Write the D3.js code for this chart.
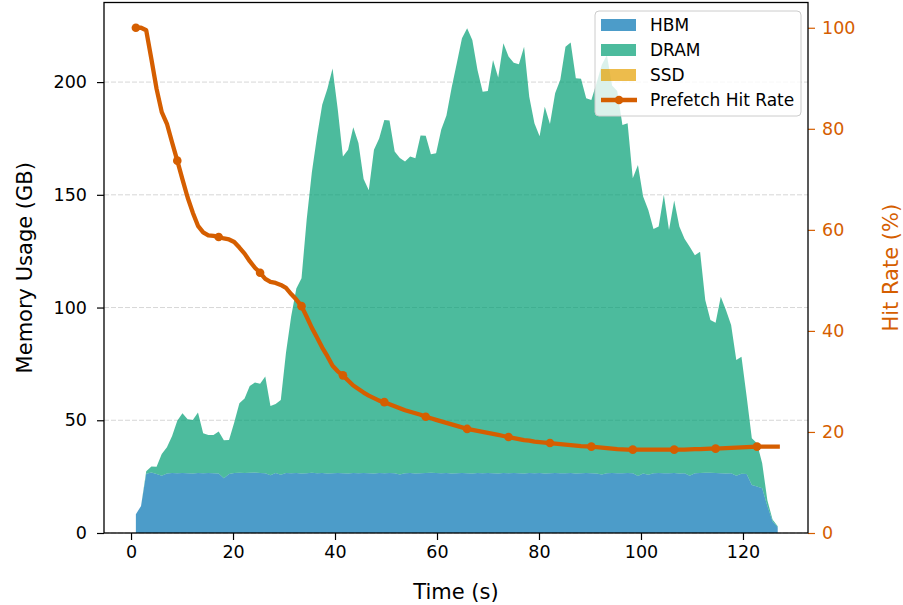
<!DOCTYPE html>
<html><head><meta charset="utf-8">
<script src="https://cdn.jsdelivr.net/npm/d3@7"></script>
<style>body{margin:0;background:#fff} text{font-family:"DejaVu Sans",sans-serif}</style>
</head><body><svg id="c" width="903" height="605"></svg>
<script>
// sampling grid (seconds)
const timeStart = 0.95, timeStep = 1.015;
const hbm = [8.3,12.0,26.3,26.8,26.2,25.4,26.4,26.6,26.5,26.6,26.5,26.4,26.6,26.5,26.6,26.5,26.4,24.3,26.2,26.6,
26.7,26.6,26.7,26.8,26.6,26.5,25.6,26.6,25.8,26.6,26.5,26.6,26.4,26.5,26.7,26.5,26.6,26.4,26.5,26.6,
26.5,26.4,26.6,26.5,26.6,26.5,26.4,26.6,26.5,26.6,26.5,25.9,26.5,26.6,26.4,26.5,26.6,26.7,26.6,26.5,
26.6,26.4,26.5,26.6,26.5,26.4,26.6,26.5,26.6,26.5,26.4,26.6,26.5,26.6,26.5,26.4,26.6,26.5,26.6,26.4,
26.5,26.6,26.5,26.5,26.6,26.4,26.5,26.6,26.5,26.4,25.9,26.5,26.6,26.5,26.5,26.6,26.5,25.3,26.4,25.8,
26.5,26.6,26.5,26.5,26.6,26.4,26.5,25.4,26.5,26.6,26.7,26.7,26.6,26.5,26.4,26.5,25.4,26.3,26.2,21.3,
20.6,19.8,12.0,5.2,2.6];
const dram = [0,0,1.1,2.7,3.2,9.6,11.6,16.4,23.3,26.5,23.9,23.7,26.9,17.7,16.9,17.0,18.6,16.8,15.0,22.4,
30.8,33.1,38.5,40.0,39.6,42.9,30.7,30.6,33.2,53.4,69.5,81.9,86.6,112.5,133.3,149.5,163.4,170.6,179.5,161.4,
140.5,143.6,153.4,146.5,130.4,125.5,143.6,148.4,156.7,156.4,142.7,140.4,138.3,140.4,139.8,149.8,149.6,141.3,141.8,152.5,
158.6,171.1,181.8,192.8,197.4,192.3,178.8,169.2,169.4,183.3,175.6,190.6,184.8,182.0,181.4,189.3,166.9,155.2,149.4,162.7,
154.9,168.4,174.5,189.2,191.0,175.3,175.0,166.2,165.5,173.2,181.7,185.5,171.9,169.5,154.5,155.1,130.8,137.9,122.8,117.5,
108.3,109.3,123.5,107.9,120.9,109.5,104.0,101.6,96.7,98.2,76.7,67.8,66.7,78.3,72.5,65.8,51.3,51.9,34.3,20.7,
19.2,11.1,2.5,0.8,0.4];
const ssd = [0,0,0,0,0,0,0,0,0,0,0,0,0,0,0,0,0,0,0,0,0,0,0,0,0,0,0,0,0,0,0,0,0,0,0,0,0,0,0,0,
0,0,0,0,0,0,0,0,0,0,0,0,0,0,0,0,0,0,0,0,0,0,0,0,0,0,0,0,0,0,0,0,0,0,0,0,0,0,0,0,
0,0,0,0,0,0,0,0,0,0,0,0,0,0,0,0,0,0,0,0,0,0,0,0,0,0,0,0,0,0,0,0,0,0,0,0,0,0,0,0,0,0,0,0,0];
const hitRate = [100,100,99.5,93.8,87.9,83.3,81.0,77.3,73.7,70.0,66.4,63.4,60.8,59.5,58.9,58.8,58.6,58.3,58.1,57.6,
56.5,55.3,53.8,52.5,51.5,50.3,49.7,49.5,49.1,48.5,47.3,46.2,44.9,42.8,40.6,38.7,36.7,35.0,33.1,32.0,
31.2,30.2,29.2,28.5,27.8,27.2,26.7,26.2,25.9,25.5,25.1,24.7,24.3,24.0,23.7,23.4,23.0,22.7,22.4,22.1,
21.8,21.5,21.2,20.9,20.6,20.4,20.2,20.0,19.8,19.6,19.4,19.2,19.0,18.8,18.6,18.4,18.3,18.1,18.0,17.9,
17.8,17.7,17.6,17.5,17.4,17.3,17.2,17.15,17.1,17.0,16.9,16.8,16.7,16.6,16.55,16.5,16.5,16.5,16.5,16.5,
16.5,16.5,16.5,16.5,16.5,16.5,16.5,16.55,16.6,16.6,16.65,16.7,16.7,16.75,16.8,16.85,16.9,16.95,17.0,17.05,
17.1,17.1,17.1,17.1,17.1];
const seriesNames = ["HBM","DRAM","SSD"];
const lineName = "Prefetch Hit Rate";
const memTicks = [0,50,100,150,200];
const rateTicks = [0,20,40,60,80,100];
const timeTicks = [0,20,40,60,80,100,120];

const times = d3.range(hbm.length).map(i => timeStart + i*timeStep);
const rows = times.map((t,i) => ({t, HBM: hbm[i], DRAM: dram[i], SSD: ssd[i], rate: hitRate[i]}));

const L = 104, R = 808, T = 2.5, B = 533;
const svg = d3.select("#c");
const x = d3.scaleLinear().domain([-5.3, 132.75]).range([L, R]);
const yL = d3.scaleLinear().domain([0, 235.3]).range([B, T]);
const yR = d3.scaleLinear().domain([0, 105]).range([B, T]);
const colors = {HBM: "#0072B2", DRAM: "#009E73", SSD: "#E69F00"};
const orange = "#D55E00";
const fs = 17.5, lfs = 17, afs = 21;

// grid
svg.append("g").selectAll("line").data(memTicks).join("line")
  .attr("x1", L).attr("x2", R).attr("y1", d => yL(d)).attr("y2", d => yL(d))
  .attr("stroke", "#b0b0b0").attr("stroke-opacity", 0.5).attr("stroke-width", 1)
  .attr("stroke-dasharray", "5,2");

// stacked areas
const stack = d3.stack().keys(seriesNames)(rows);
const area = d3.area().x(d => x(d.data.t)).y0(d => yL(d[0])).y1(d => yL(d[1]));
svg.append("g").selectAll("path").data(stack).join("path")
  .attr("d", area).attr("fill", d => colors[d.key]).attr("fill-opacity", 0.7);

// hit rate line
const line = d3.line().x(d => x(d.t)).y(d => yR(d.rate));
svg.append("path").datum(rows).attr("d", line).attr("fill", "none")
  .attr("stroke", orange).attr("stroke-width", 4.3).attr("stroke-linejoin", "round").attr("stroke-linecap", "square");
svg.append("g").selectAll("circle").data(rows.filter((d,i) => i % 8 === 0)).join("circle")
  .attr("cx", d => x(d.t)).attr("cy", d => yR(d.rate)).attr("r", 4.3).attr("fill", orange);

// axes
function styleAxis(g, color) {
  g.select(".domain").remove();
  g.selectAll(".tick line").attr("stroke", color).attr("stroke-width", 1.2);
  g.selectAll(".tick text").attr("fill", color).attr("font-size", fs).attr("font-family", "DejaVu Sans");
}
svg.append("g").attr("transform", `translate(${L},0)`)
  .call(d3.axisLeft(yL).tickValues(memTicks).tickSize(7).tickPadding(10))
  .call(g => styleAxis(g, "#000"));
svg.append("g").attr("transform", `translate(${R},0)`)
  .call(d3.axisRight(yR).tickValues(rateTicks).tickSize(7).tickPadding(7))
  .call(g => styleAxis(g, orange));
svg.append("g").attr("transform", `translate(0,${B})`)
  .call(d3.axisBottom(x).tickValues(timeTicks).tickSize(7).tickPadding(6))
  .call(g => styleAxis(g, "#000"));

// frame
svg.append("rect").attr("x", L).attr("y", T).attr("width", R - L).attr("height", B - T)
  .attr("fill", "none").attr("stroke", "#000").attr("stroke-width", 1.3);

// axis labels
svg.append("text").attr("x", (L+R)/2).attr("y", 599).attr("text-anchor", "middle")
  .attr("font-size", afs).text("Time (s)");
svg.append("text").attr("transform", `translate(32,${(T+B)/2}) rotate(-90)`).attr("text-anchor", "middle")
  .attr("font-size", afs).text("Memory Usage (GB)");
svg.append("text").attr("transform", `translate(898,${(T+B)/2}) rotate(-90)`).attr("text-anchor", "middle")
  .attr("font-size", afs).attr("fill", orange).text("Hit Rate (%)");

// legend
const lg = svg.append("g");
lg.append("rect").attr("x", 595).attr("y", 11).attr("width", 206).attr("height", 105).attr("rx", 4)
  .attr("fill", "#fff").attr("fill-opacity", 0.8).attr("stroke", "#cccccc").attr("stroke-width", 1);
const items = seriesNames.map(k => ({k, type: "area"})).concat([{k: lineName, type: "line"}]);
items.forEach((it, i) => {
  const cy = 25 + i * 25;
  if (it.type === "area") {
    lg.append("rect").attr("x", 601).attr("y", cy - 6).attr("width", 35).attr("height", 12)
      .attr("fill", colors[it.k]).attr("fill-opacity", 0.7);
  } else {
    lg.append("line").attr("x1", 601).attr("x2", 637).attr("y1", cy).attr("y2", cy)
      .attr("stroke", orange).attr("stroke-width", 4.3);
    lg.append("circle").attr("cx", 619).attr("cy", cy).attr("r", 4.3).attr("fill", orange);
  }
  lg.append("text").attr("x", 650).attr("y", cy).attr("dy", "0.35em").attr("font-size", lfs).text(it.k);
});
</script></body></html>
